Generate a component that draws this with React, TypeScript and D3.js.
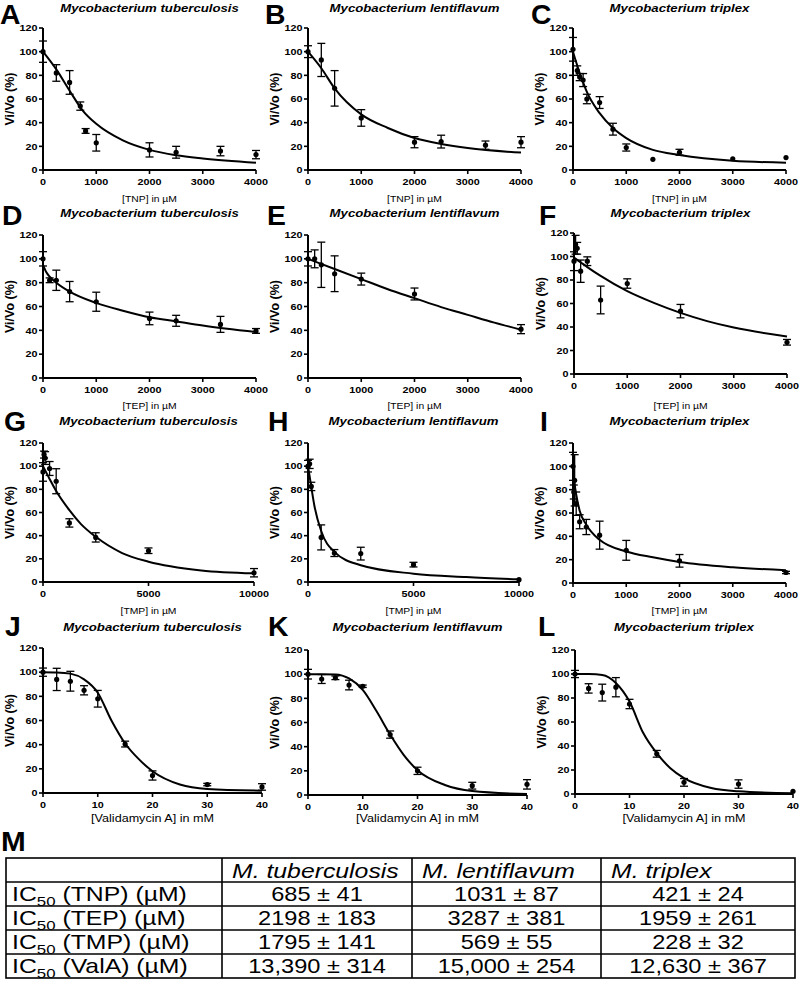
import React from "react";
import * as d3 from "d3";

const FONT = "'Liberation Sans', Arial, Helvetica, sans-serif";

// ---------------- data ----------------
// Panel A: TNP, M. tuberculosis
const aX = [0, 250, 500, 700, 800, 1000, 2000, 2500, 3333, 4000];
const aY = [100, 82, 74, 54, 33, 23, 17, 15, 16, 13];
const aErr = [9, 7, 10, 3.5, 2, 7, 6, 5, 4, 3.5];
const aFitX = [0, 250, 500, 750, 1000, 1500, 2000, 2500, 3000, 4000];
const aFitY = [100, 85, 67, 50, 39, 25, 17, 12.5, 9.8, 6.2];
// Panel B: TNP, M. lentiflavum
const bX = [0, 250, 500, 1000, 2000, 2500, 3333, 4000];
const bY = [100, 93, 69, 44, 23.5, 24, 21, 23.5];
const bErr = [5, 14, 15, 7, 4.7, 5.4, 3.5, 4.7];
const bFitX = [0, 250, 500, 1000, 1500, 2000, 2500, 3000, 4000];
const bFitY = [100, 86, 69, 47, 35.5, 27, 22, 18.5, 14.7];
// Panel C: TNP, M. triplex
const cX = [0, 80, 125, 190, 260, 500, 750, 1000, 1500, 2000, 3000, 4000];
const cY = [102, 84, 78.5, 76, 60, 57, 34.5, 19, 9, 15, 9.5, 10.5];
const cErr = [10, 4, 3, 5.5, 4, 5, 5, 3, 0, 2.5, 0, 0];
const cFitX = [0, 60, 125, 190, 250, 500, 750, 1000, 1500, 2000, 3000, 4000];
const cFitY = [100, 91, 82, 74, 67, 48, 35.5, 27, 17, 12.7, 7.8, 6.2];
// Panel D: TEP, M. tuberculosis
const dX = [0, 125, 250, 500, 1000, 2000, 2500, 3333, 4000];
const dY = [100, 82, 82, 72.5, 64, 50, 48, 45, 39.5];
const dErr = [6, 2, 8.5, 8.5, 8, 5.3, 4.6, 6.7, 2];
const dFitX = [0, 60, 125, 250, 500, 1000, 1500, 2000, 2500, 3000, 4000];
const dFitY = [95, 89, 85, 80, 72.5, 63, 56.5, 51, 47.5, 44, 38.5];
// Panel E: TEP, M. lentiflavum
const eX = [0, 125, 250, 500, 1000, 2000, 4000];
const eY = [100, 100, 95, 87.5, 83, 70.5, 41];
const eErr = [6, 7.5, 19, 15, 5, 5, 3.8];
const eFitX = [0, 500, 1000, 1500, 2000, 2500, 3000, 3500, 4000];
const eFitY = [100, 91.5, 83, 74.5, 67, 59.5, 53, 46.5, 40.5];
// Panel F: TEP, M. triplex
const fX = [0, 30, 60, 125, 250, 500, 1000, 2000, 4000];
const fY = [96, 110, 107, 87.5, 96, 63, 77, 53.5, 27];
const fErr = [8, 8, 5, 9.5, 3.7, 11.8, 4, 5.7, 2.4];
const fFitX = [0, 125, 250, 500, 1000, 1500, 2000, 2500, 3000, 4000];
const fFitY = [99, 95, 91, 83.5, 70.5, 60.5, 52, 45, 39.5, 32];
// Panel G: TMP, M. tuberculosis
const gX = [0, 50, 100, 312, 625, 1250, 2500, 5000, 10000];
const gY = [95, 110, 107, 98, 87, 51, 38.5, 27, 8];
const gErr = [8, 3, 5.5, 6, 10.8, 3.6, 4, 2.4, 3.6];
const gFitX = [0, 312, 625, 1250, 1800, 2500, 3750, 5000, 7500, 10000];
const gFitY = [100, 89, 78.5, 62, 50, 39, 25, 17.5, 10, 7.5];
// Panel H: TMP, M. lentiflavum
const hX = [0, 78, 156, 625, 1250, 2500, 5000, 10000];
const hY = [100, 102, 82.5, 38.5, 25, 24.5, 15, 2];
const hErr = [5, 4, 3.6, 10.8, 3, 5.5, 2, 0];
const hFitX = [0, 156, 312, 625, 1250, 2500, 5000, 7500, 10000];
const hFitY = [100, 82, 65, 44, 26, 14.5, 7.2, 4.3, 2.3];
// Panel I: TMP, M. triplex
const iX = [0, 15, 31, 60, 125, 250, 500, 1000, 2000, 4000];
const iY = [100, 78, 88, 68, 52.5, 48, 41, 28, 19, 9];
const iErr = [12, 6, 22, 10, 6, 6.5, 12, 8.5, 5.4, 1];
const iFitX = [0, 30, 60, 125, 250, 500, 1000, 1500, 2000, 3000, 4000];
const iFitY = [100, 85, 76, 62, 50, 37, 27, 22, 18, 13.5, 11];
// Panel J: Validamycin A, M. tuberculosis
const jX = [0, 2.5, 5, 7.5, 10, 15, 20, 30, 40];
const jY = [100, 94, 92.5, 85, 78, 40.5, 14.5, 7, 5];
const jErr = [3.4, 9.2, 8.2, 3.8, 6.9, 2.4, 3.8, 1, 2.7];
const jFitX = [0, 2.5, 5, 7.5, 10, 12.5, 15, 17.5, 20, 25, 30, 40];
const jFitY = [100, 99.8, 98.8, 94, 83, 60, 41, 28, 18, 7, 3.3, 1.9];
// Panel K: Validamycin A, M. lentiflavum
const kX = [0, 2.5, 5, 7.5, 10, 15, 20, 30, 40];
const kY = [100, 96, 97, 91, 90, 50, 20, 7.7, 8.8];
const kErr = [4, 3.7, 1.5, 4, 1, 3, 3, 2.8, 3.9];
const kFitX = [0, 2.5, 5, 7.5, 10, 12.5, 15, 17.5, 20, 25, 30, 40];
const kFitY = [100, 100, 99.8, 96.5, 87, 69.5, 50, 33, 20.5, 8.3, 3.3, 0.8];
// Panel L: Validamycin A, M. triplex
const lX = [0, 2.5, 5, 7.5, 10, 15, 20, 30, 40];
const lY = [100, 88, 84.5, 89, 75, 33.5, 9.7, 8.3, 2.2];
const lErr = [3, 3.9, 7, 8, 3.9, 2.8, 3.2, 3.5, 0];
const lFitX = [0, 2.5, 5, 7.5, 10, 12.5, 15, 17.5, 20, 25, 30, 40];
const lFitY = [100, 99.9, 99.2, 92.5, 77, 51, 34, 21.5, 13.3, 5, 2.2, 0.6];

const speciesTitles = ["Mycobacterium tuberculosis", "Mycobacterium lentiflavum", "Mycobacterium triplex"];
const xAxisLabels = ["[TNP] in µM", "[TEP] in µM", "[TMP] in µM", "[Validamycin A] in mM"];
const panelLetters = ["A", "B", "C", "D", "E", "F", "G", "H", "I", "J", "K", "L"];
const yTicks = [0, 20, 40, 60, 80, 100, 120];
const xTicks4000 = [0, 1000, 2000, 3000, 4000];
const xTicks10000 = [0, 5000, 10000];
const xTicks40 = [0, 10, 20, 30, 40];

// table M
const tableHeaders = ["M. tuberculosis", "M. lentiflavum", "M. triplex"];
const tableCompounds = ["TNP", "TEP", "TMP", "ValA"];
const icTuberculosis = ["685 ± 41", "2198 ± 183", "1795 ± 141", "13,390 ± 314"];
const icLentiflavum = ["1031 ± 87", "3287 ± 381", "569 ± 55", "15,000 ± 254"];
const icTriplex = ["421 ± 24", "1959 ± 261", "228 ± 32", "12,630 ± 367"];

// ---------------- layout ----------------
const panelData = [
  [aX, aY, aErr, aFitX, aFitY], [bX, bY, bErr, bFitX, bFitY], [cX, cY, cErr, cFitX, cFitY],
  [dX, dY, dErr, dFitX, dFitY], [eX, eY, eErr, eFitX, eFitY], [fX, fY, fErr, fFitX, fFitY],
  [gX, gY, gErr, gFitX, gFitY], [hX, hY, hErr, hFitX, hFitY], [iX, iY, iErr, iFitX, iFitY],
  [jX, jY, jErr, jFitX, jFitY], [kX, kY, kErr, kFitX, kFitY], [lX, lY, lErr, lFitX, lFitY],
];
const panelTicks = [
  xTicks4000, xTicks4000, xTicks4000,
  xTicks4000, xTicks4000, xTicks4000,
  xTicks10000, xTicks10000, xTicks4000,
  xTicks40, xTicks40, xTicks40,
];
// geometry per panel: x0, x1, yTop, yBot, letterX
const geom = [
  [43, 256, 28, 170, 0], [308, 521, 28, 170, 265], [573, 786, 28, 170, 531],
  [43, 256, 235, 378, 2], [308, 521, 235, 378, 267], [574, 787, 233, 374, 539],
  [43, 254, 443, 582, 4], [308, 519, 443, 582, 268], [573, 786, 443, 583, 540],
  [43, 262, 648, 793, 5], [308, 527, 650, 795, 268], [575, 793, 650, 794, 538],
];
const rowText = [
  { letter: 24, title: 12, xlab: 202, xlabSize: 9, xlabSx: 1.15 },
  { letter: 225, title: 217, xlab: 409, xlabSize: 9, xlabSx: 1.15 },
  { letter: 431, title: 425, xlab: 614, xlabSize: 9, xlabSx: 1.15 },
  { letter: 636, title: 631, xlab: 822, xlabSize: 10.5, xlabSx: 1.2 },
];

type TP = {
  x: number; y: number; size: number; sx?: number; anchor?: string; weight?: string;
  italic?: boolean; rotate?: boolean; children: React.ReactNode;
};
function T({ x, y, size, sx = 1, anchor = "middle", weight = "bold", italic = false, rotate = false, children }: TP) {
  const tr = rotate
    ? `translate(${x},${y}) rotate(-90) scale(1,${sx})`
    : `translate(${x},${y}) scale(${sx},1)`;
  return (
    <text transform={tr} textAnchor={anchor as any} fontSize={size} fontWeight={weight}
      fontStyle={italic ? "italic" : "normal"} fontFamily={FONT} fill="#000">
      {children}
    </text>
  );
}

function Panel({ idx }: { idx: number }) {
  const [px, py, pe, fx, fy] = panelData[idx];
  const ticks = panelTicks[idx];
  const [x0, x1, yTop, yBot, letterX] = geom[idx];
  const row = Math.floor(idx / 3);
  const col = idx % 3;
  const rt = rowText[row];
  const xMax = ticks[ticks.length - 1];
  const x = d3.scaleLinear().domain([0, xMax]).range([x0, x1]);
  const y = d3.scaleLinear().domain([0, 120]).range([yBot, yTop]);
  const line = d3.line<number>().x((d, i) => x(fx[i])).y((d, i) => y(fy[i])).curve(d3.curveMonotoneX);
  const cap = 4;
  const tickLen = 4;
  return (
    <g>
      <T x={letterX} y={rt.letter} size={27} anchor="start" sx={1.05}>{panelLetters[idx]}</T>
      <T x={(x0 + x1) / 2} y={rt.title} size={11} sx={1.2} italic>{speciesTitles[col]}</T>
      {/* fit curve */}
      <path d={line(fx) || ""} fill="none" stroke="#000" strokeWidth={2} />
      {/* error bars */}
      {px.map((v, i) => pe[i] > 0 ? (
        <g key={"e" + i} stroke="#000" strokeWidth={1.3}>
          <line x1={x(v)} x2={x(v)} y1={y(py[i] - pe[i])} y2={y(py[i] + pe[i])} />
          <line x1={x(v) - cap} x2={x(v) + cap} y1={y(py[i] - pe[i])} y2={y(py[i] - pe[i])} />
          <line x1={x(v) - cap} x2={x(v) + cap} y1={y(py[i] + pe[i])} y2={y(py[i] + pe[i])} />
        </g>
      ) : null)}
      {px.map((v, i) => (
        <circle key={"p" + i} cx={x(v)} cy={y(py[i])} r={2.6} fill="#000" />
      ))}
      {/* axes */}
      <line x1={x0} x2={x0} y1={y(0) + 1} y2={y(120)} stroke="#000" strokeWidth={2} />
      <line x1={x0 - 1} x2={x1} y1={y(0)} y2={y(0)} stroke="#000" strokeWidth={2} />
      {yTicks.map((t) => (
        <g key={"yt" + t}>
          <line x1={x0 - tickLen} x2={x0} y1={y(t)} y2={y(t)} stroke="#000" strokeWidth={1.6} />
          <T x={x0 - tickLen - 1.5} y={y(t) + 3.3} size={9} sx={1.2} anchor="end">{String(t)}</T>
        </g>
      ))}
      {ticks.map((t) => (
        <g key={"xt" + t}>
          <line x1={x(t)} x2={x(t)} y1={y(0)} y2={y(0) + tickLen} stroke="#000" strokeWidth={1.6} />
          <T x={x(t)} y={y(0) + 15} size={9} sx={1.2}>{String(t)}</T>
        </g>
      ))}
      <T x={x0 - 29} y={(yTop + yBot) / 2} size={12.5} sx={1.0} rotate>Vi/Vo (%)</T>
      <T x={(x0 + x1) / 2} y={rt.xlab} size={rt.xlabSize} sx={rt.xlabSx} weight="normal">{xAxisLabels[row]}</T>
    </g>
  );
}

function Table() {
  const colX = [6, 222, 412, 601, 795];
  const top = 858;
  const rh = 24;
  const nRows = 5;
  const values = [icTuberculosis, icLentiflavum, icTriplex];
  const fs = 20;
  const sx = 1.24;
  return (
    <g>
      <T x={1} y={851} size={27} anchor="start" sx={1.1}>M</T>
      <rect x={colX[0]} y={top} width={colX[4] - colX[0]} height={rh * nRows} fill="none" stroke="#000" strokeWidth={1.6} />
      {d3.range(1, nRows).map((r) => (
        <line key={"r" + r} x1={colX[0]} x2={colX[4]} y1={top + r * rh} y2={top + r * rh} stroke="#000" strokeWidth={1.6} />
      ))}
      {[1, 2, 3].map((c) => (
        <line key={"c" + c} x1={colX[c]} x2={colX[c]} y1={top} y2={top + nRows * rh} stroke="#000" strokeWidth={1.6} />
      ))}
      {tableHeaders.map((h, c) => (
        <T key={"h" + c} x={colX[c + 1] + 10} y={top + rh - 4} size={fs} sx={sx} anchor="start" weight="normal" italic>{h}</T>
      ))}
      {tableCompounds.map((cmp, r) => (
        <g key={"row" + r}>
          <T x={colX[0] + 6} y={top + (r + 2) * rh - 5} size={fs} sx={sx} anchor="start" weight="normal">
            <tspan>IC</tspan>
            <tspan dy={5} fontSize={fs * 0.68}>50</tspan>
            <tspan dy={-5}>{` (${cmp}) (µM)`}</tspan>
          </T>
          {values.map((vals, c) => (
            <T key={"v" + c} x={(colX[c + 1] + colX[c + 2]) / 2} y={top + (r + 2) * rh - 5} size={fs} sx={1.18} weight="normal">{vals[r]}</T>
          ))}
        </g>
      ))}
    </g>
  );
}

export default function App() {
  return (
    <svg width={800} height={983} style={{ position: "absolute", left: 0, top: 0, background: "#fff" }}>
      <rect width={800} height={983} fill="#fff" />
      {panelData.map((_, i) => <Panel key={i} idx={i} />)}
      <Table />
    </svg>
  );
}
